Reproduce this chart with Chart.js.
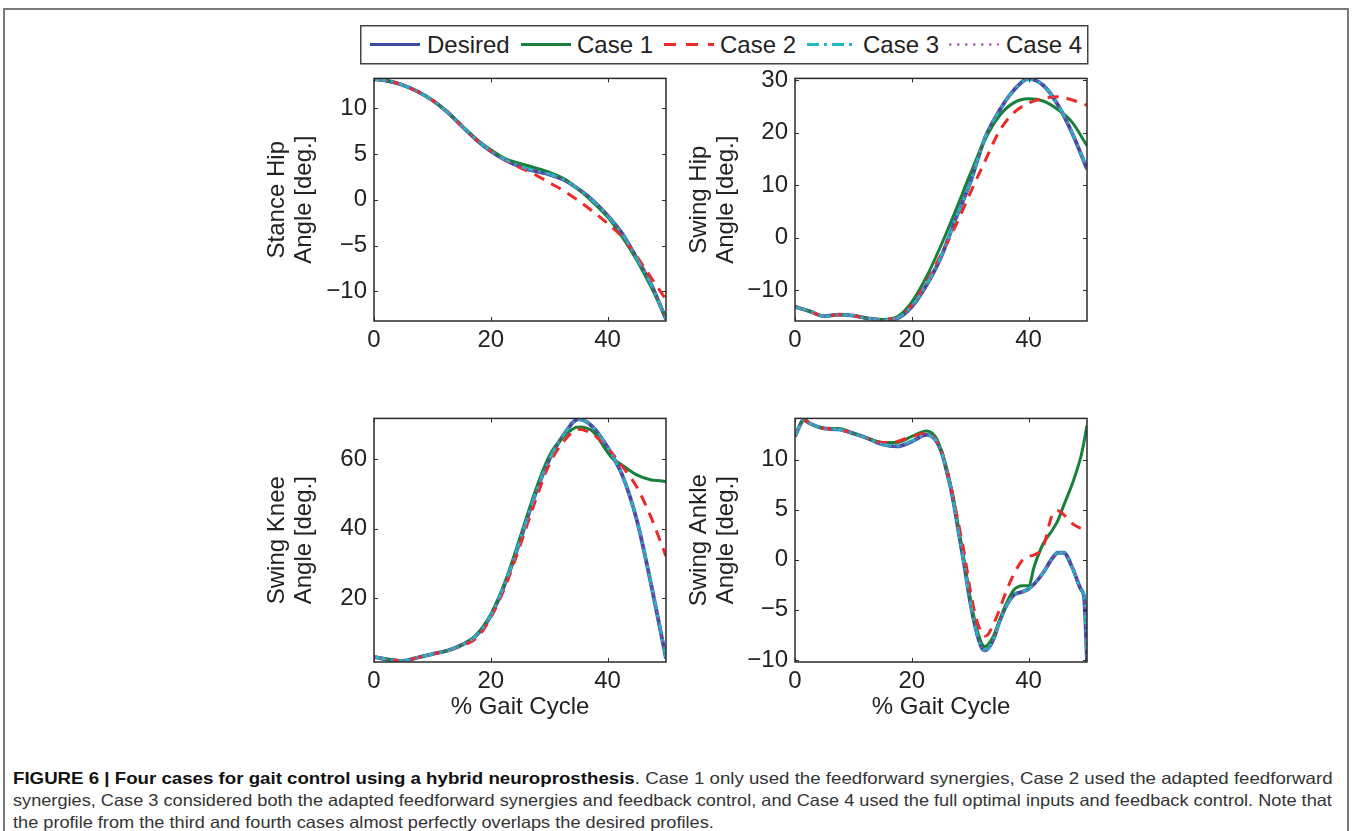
<!DOCTYPE html>
<html><head><meta charset="utf-8">
<script src="https://cdn.jsdelivr.net/npm/chart.js@4.4.1/dist/chart.umd.min.js"></script>
<style>
html,body{margin:0;padding:0;background:#fff;}
#page{position:relative;width:1352px;height:831px;overflow:hidden;font-family:"Liberation Sans",Arial,Helvetica,sans-serif;color:#222;background:#fff;}
#frame{position:absolute;left:3px;top:8px;width:1346px;height:900px;border:2px solid #7a7a7a;box-sizing:border-box;}
canvas{position:absolute;}
#legendSvg{position:absolute;left:0;top:0;}
.ltxt{position:absolute;font-size:24px;line-height:24px;white-space:nowrap;color:#222;}
.cap{position:absolute;left:13px;white-space:nowrap;font-family:"Liberation Sans Narrow","Liberation Sans",Arial,sans-serif;font-size:16.5px;line-height:22px;transform-origin:0 50%;color:#333;}
.cap b{color:#111;}
</style>
</head><body>
<div id="page">
  <div id="frame"></div>
  <canvas id="c1" width="422" height="304" style="left:264px;top:57px"></canvas>
  <canvas id="c2" width="421" height="304" style="left:686px;top:57px"></canvas>
  <canvas id="c3" width="422" height="324" style="left:264px;top:397px"></canvas>
  <canvas id="c4" width="421" height="324" style="left:686px;top:397px"></canvas>
  <svg id="legendSvg" width="1352" height="80"></svg>
  <div id="legendTexts"></div>
  <div class="cap" id="cap1" style="top:767px"><b>FIGURE 6 | Four cases for gait control using a hybrid neuroprosthesis</b>. Case 1 only used the feedforward synergies, Case 2 used the adapted feedforward</div>
  <div class="cap" id="cap2" style="top:789px">synergies, Case 3 considered both the adapted feedforward synergies and feedback control, and Case 4 used the full optimal inputs and feedback control. Note that</div>
  <div class="cap" id="cap3" style="top:811px">the profile from the third and fourth cases almost perfectly overlaps the desired profiles.</div>
</div>
<script>
// ---------------- DATA ----------------
const seriesNames = ['Desired', 'Case 1', 'Case 2', 'Case 3', 'Case 4'];
const gaitTicks = [0, 20, 40];

// Stance hip
const stanceX = [0,2.5,5,7.5,10,12.5,15,17.5,20,22.5,25,27.5,30,32.5,35,37.5,40,42.5,45,47.5,50];
const stanceDesired = [13.17,12.95,12.5,11.8,10.86,9.6,8.06,6.55,5.29,4.32,3.6,3.13,2.77,2.16,1.15,-0.1,-1.73,-3.7,-6.4,-9.3,-13.06];
const stanceCase1   = [13.17,12.95,12.5,11.8,10.86,9.62,8.12,6.65,5.45,4.46,3.96,3.5,3.0,2.3,1.15,-0.3,-1.9,-4.06,-6.6,-9.6,-12.9];
const stanceCase2   = [13.17,12.95,12.5,11.8,10.86,9.6,8.06,6.55,5.3,4.3,3.5,2.77,1.87,0.97,-0.1,-1.3,-2.6,-4.06,-6.2,-8.56,-10.9];
const stanceCase3   = [13.17,12.95,12.5,11.8,10.86,9.6,8.08,6.58,5.33,4.36,3.65,3.18,2.8,2.18,1.15,-0.12,-1.75,-3.72,-6.42,-9.32,-13.0];
const stanceCase4   = [13.17,12.95,12.5,11.8,10.86,9.6,8.06,6.55,5.3,4.33,3.61,3.14,2.77,2.16,1.15,-0.1,-1.73,-3.7,-6.4,-9.3,-13.05];
const stanceTicks = [-10,-5,0,5,10];

// Swing hip
const swingHipX = [0,2.5,5,7.5,10,12.5,15,17.5,20,22.5,25,27.5,30,32.5,35,37.5,40,42.5,45,47.5,50];
const swingHipDesired = [-13.1,-13.95,-14.9,-14.6,-14.8,-15.3,-15.6,-15.3,-13.1,-9.0,-3.66,3.6,10.5,18.9,24.2,28.1,30.2,29.0,25.3,19.8,13.07];
const swingHipCase1   = [-13.1,-13.95,-14.9,-14.6,-14.8,-15.3,-15.5,-15.0,-12.2,-7.45,-1.45,5.2,12.1,18.6,23.2,25.7,26.45,26.0,24.4,21.9,17.5];
const swingHipCase2   = [-13.1,-13.95,-14.9,-14.6,-14.8,-15.3,-15.5,-15.2,-12.8,-8.5,-3.2,2.3,8.5,14.5,20.3,23.8,25.6,26.5,26.8,26.2,25.2];
const swingHipCase3   = [-13.1,-13.95,-14.9,-14.6,-14.8,-15.3,-15.55,-15.25,-13.0,-8.9,-3.6,3.6,10.5,18.9,24.2,28.1,30.1,29.0,25.3,19.9,13.1];
const swingHipCase4   = [-13.1,-13.95,-14.9,-14.6,-14.8,-15.3,-15.6,-15.3,-13.1,-9.0,-3.66,3.6,10.5,18.9,24.2,28.1,30.2,29.0,25.3,19.8,13.07];
const swingHipTicks = [-10,0,10,20,30];

// Swing knee
const kneeX = [0,2.5,5,7.5,10,12.5,15,17.5,20,22.5,25,27.5,30,32.5,35,37.5,40,41,42.5,45,47.5,49,50];
const kneeDesired = [3.0,2.2,1.8,2.8,3.8,4.75,6.4,9.1,14.8,24.4,36.4,49.35,59.9,67.1,71.6,69.3,63.5,60.5,55.5,42.5,23.5,11.0,2.5];
const kneeCase1   = [3.0,2.2,1.8,2.8,3.8,4.75,6.4,9.3,15.3,24.9,37.4,50.3,60.9,66.6,69.3,68.0,62.0,60.0,58.3,55.5,54.0,53.8,53.6];
const kneeCase2   = [3.0,2.2,1.8,2.8,3.8,4.7,6.2,8.3,14.3,23.4,35.0,47.4,58.5,65.2,68.7,67.2,63.3,61.3,58.0,52.0,43.0,36.5,32.0];
const kneeCase3   = [3.0,2.2,1.8,2.8,3.8,4.75,6.4,9.1,14.9,24.5,36.5,49.4,59.9,67.1,71.5,69.3,63.5,60.5,55.5,42.6,23.6,11.2,2.6];
const kneeCase4   = [3.0,2.2,1.8,2.8,3.8,4.75,6.4,9.1,14.8,24.4,36.4,49.35,59.9,67.1,71.6,69.3,63.5,60.5,55.5,42.5,23.5,11.0,2.5];
const kneeTicks = [20,40,60];

// Swing ankle
const ankleX = [0,1,1.5,2.5,5,7.5,10,12.5,15,17.5,20,22.5,24,25,26,27,28,29,30,31,32,32.5,33,34,35,36,37.5,39,40,41,42.5,44,45,46,47.5,49,49.5,50];
const ankleDesired = [12.3,13.6,14.0,13.6,13.1,13.0,12.6,12.1,11.5,11.3,11.8,12.45,12.0,10.9,8.8,6.2,2.8,-0.6,-4.2,-7.0,-8.8,-9.05,-8.9,-7.9,-6.2,-4.8,-3.5,-3.2,-2.9,-2.4,-1.3,0.1,0.7,0.7,-0.8,-3.0,-3.8,-10.1];
const ankleCase1   = [12.3,13.6,14.0,13.6,13.1,13.1,12.6,12.1,11.7,11.7,12.3,12.85,12.3,11.0,9.0,6.5,3.2,-0.2,-3.8,-6.6,-8.4,-8.65,-8.5,-7.6,-6.1,-4.6,-3.0,-2.6,-2.6,-0.6,1.6,2.9,3.9,5.4,7.6,10.4,11.8,13.4];
const ankleCase2   = [12.3,13.6,13.9,13.6,13.1,13.0,12.6,12.1,11.7,11.8,12.3,12.6,12.1,11.0,9.0,6.5,3.6,0.6,-3.0,-5.8,-7.3,-7.6,-7.5,-6.4,-5.0,-3.4,-1.4,0.0,0.35,0.5,1.3,4.4,4.9,4.5,3.6,3.1,3.0,3.0];
const ankleCase3   = [12.3,13.6,14.0,13.6,13.1,13.0,12.6,12.1,11.5,11.35,11.85,12.45,12.0,10.9,8.8,6.2,2.8,-0.6,-4.2,-7.0,-8.8,-9.0,-8.9,-7.9,-6.2,-4.8,-3.5,-3.2,-2.9,-2.4,-1.3,0.1,0.7,0.7,-0.8,-3.0,-3.6,-9.8];
const ankleCase4   = [12.3,13.6,14.0,13.6,13.1,13.0,12.6,12.1,11.5,11.3,11.8,12.45,12.0,10.9,8.8,6.2,2.8,-0.6,-4.2,-7.0,-8.8,-9.05,-8.9,-7.9,-6.2,-4.8,-3.5,-3.2,-2.9,-2.4,-1.3,0.1,0.7,0.7,-0.8,-3.0,-3.8,-10.1];
const ankleTicks = [-10,-5,0,5,10];

// ---------------- STYLE ----------------
const FONT = 'Liberation Sans, Arial, Helvetica, sans-serif';
const TXT = '#222222';
const STYLE = [
  {color:'#3A4BA4', width:3.8, dash:[]},
  {color:'#17803A', width:3.0, dash:[]},
  {color:'#EC2A2A', width:3.0, dash:[11,8]},
  {color:'#22B7C1', width:3.0, dash:[12,5,3,5]},
  {color:'#A54CB2', width:1.8, dash:[2,4]}
];

function buildDatasets(xs, ys) {
  return ys.map((vals, i) => ({
    label: seriesNames[i],
    data: xs.map((x, j) => ({x: x, y: vals[j]})),
    borderColor: STYLE[i].color,
    borderWidth: STYLE[i].width,
    borderDash: STYLE[i].dash,
    pointRadius: 0,
    fill: false,
    cubicInterpolationMode: 'monotone',
    order: 5 - i,
    borderCapStyle: 'butt',
    borderJoinStyle: 'round'
  }));
}

const matlabBox = {
  id: 'matlabBox',
  afterDraw(chart) {
    const {ctx, chartArea: a, scales} = chart;
    const x = scales.x, y = scales.y;
    ctx.save();
    ctx.strokeStyle = '#2a2a2a';
    ctx.lineWidth = 1;
    const tl = 4;
    ctx.beginPath();
    x.ticks.forEach(t => {
      const px = Math.round(x.getPixelForValue(t.value)) + 0.5;
      ctx.moveTo(px, a.bottom); ctx.lineTo(px, a.bottom - tl);
      ctx.moveTo(px, a.top); ctx.lineTo(px, a.top + tl);
    });
    y.ticks.forEach(t => {
      const py = Math.round(y.getPixelForValue(t.value)) + 0.5;
      ctx.moveTo(a.left, py); ctx.lineTo(a.left + tl, py);
      ctx.moveTo(a.right, py); ctx.lineTo(a.right - tl, py);
    });
    ctx.stroke();
    ctx.lineWidth = 1.5;
    ctx.strokeRect(a.left, a.top, a.right - a.left, a.bottom - a.top);
    ctx.restore();
  }
};

const fmt = v => String(v).replace('-', '\u2212');

function makePanel(id, xs, ys, yMin, yMax, yTicks, yTitle, yAxisWidth, showXTitle) {
  const xAxisHeight = showXTitle ? 59 : 40;
  new Chart(document.getElementById(id), {
    type: 'line',
    data: {datasets: buildDatasets(xs, ys)},
    options: {
      responsive: false,
      maintainAspectRatio: false,
      devicePixelRatio: 1,
      animation: false,
      events: [],
      layout: {padding: {top: 20, right: 20, bottom: 0, left: 0}},
      plugins: {legend: {display: false}, tooltip: {enabled: false}},
      scales: {
        x: {
          type: 'linear', min: 0, max: 50,
          afterBuildTicks: s => { s.ticks = gaitTicks.map(v => ({value: v})); },
          afterFit: s => { s.height = xAxisHeight; },
          grid: {display: false, drawTicks: false},
          border: {display: false},
          ticks: {color: TXT, font: {family: FONT, size: 24, lineHeight: 1.2}, padding: 5, callback: fmt, maxRotation: 0},
          title: {display: showXTitle, text: '% Gait Cycle', color: TXT, font: {family: FONT, size: 24, lineHeight: '27px'}, padding: {top: 0, bottom: 0}}
        },
        y: {
          type: 'linear', min: yMin, max: yMax,
          afterBuildTicks: s => { s.ticks = yTicks.map(v => ({value: v})); },
          afterFit: s => { s.width = yAxisWidth; },
          grid: {display: false, drawTicks: false},
          border: {display: false},
          ticks: {color: TXT, font: {family: FONT, size: 24, lineHeight: 1.2}, padding: 7, callback: fmt},
          title: {display: true, text: yTitle, color: TXT, font: {family: FONT, size: 24, lineHeight: '27px'}, padding: {top: 0, bottom: 0}}
        }
      }
    },
    plugins: [matlabBox]
  });
}

makePanel('c1', stanceX, [stanceDesired, stanceCase1, stanceCase2, stanceCase3, stanceCase4],
  -13.24, 13.24, stanceTicks, ['Stance Hip', 'Angle [deg.]'], 110, false);
makePanel('c2', swingHipX, [swingHipDesired, swingHipCase1, swingHipCase2, swingHipCase3, swingHipCase4],
  -15.8, 30.3, swingHipTicks, ['Swing Hip', 'Angle [deg.]'], 109, false);
makePanel('c3', kneeX, [kneeDesired, kneeCase1, kneeCase2, kneeCase3, kneeCase4],
  1.5, 71.8, kneeTicks, ['Swing Knee', 'Angle [deg.]'], 110, true);
makePanel('c4', ankleX, [ankleDesired, ankleCase1, ankleCase2, ankleCase3, ankleCase4],
  -10.2, 14.1, ankleTicks, ['Swing Ankle', 'Angle [deg.]'], 109, true);

// ---------------- LEGEND (HTML) ----------------
(function () {
  const svg = document.getElementById('legendSvg');
  const ns = 'http://www.w3.org/2000/svg';
  const box = document.createElementNS(ns, 'rect');
  box.setAttribute('x', 360.75); box.setAttribute('y', 25.75);
  box.setAttribute('width', 727); box.setAttribute('height', 38);
  box.setAttribute('fill', '#fff'); box.setAttribute('stroke', '#444'); box.setAttribute('stroke-width', 1.5);
  svg.appendChild(box);
  const samples = [[370, 420], [521, 571], [664, 714], [807, 857], [949, 999]];
  const legendDash = ['', '', '12 10', '12 5 3 5', '2.5 5.5'];
  const textLeft = [427, 577, 720, 863, 1006];
  const holder = document.getElementById('legendTexts');
  seriesNames.forEach((name, i) => {
    const ln = document.createElementNS(ns, 'line');
    ln.setAttribute('x1', samples[i][0]); ln.setAttribute('x2', samples[i][1]);
    ln.setAttribute('y1', 44.5); ln.setAttribute('y2', 44.5);
    ln.setAttribute('stroke', STYLE[i].color);
    ln.setAttribute('stroke-width', i === 4 ? 2 : 3);
    if (legendDash[i]) ln.setAttribute('stroke-dasharray', legendDash[i]);
    svg.appendChild(ln);
    const t = document.createElement('div');
    t.className = 'ltxt';
    t.style.left = textLeft[i] + 'px';
    t.style.top = '33px';
    t.textContent = name;
    holder.appendChild(t);
  });
})();

// ---------------- CAPTION FIT ----------------
(function () {
  const fit = (id, w) => { const el = document.getElementById(id); const s = w / el.offsetWidth; el.style.transform = 'scaleX(' + s + ')'; return s; };
  fit('cap1', 1320);
  const s2 = fit('cap2', 1319);
  document.getElementById('cap3').style.transform = 'scaleX(' + s2 + ')';
})();
</script>
</body></html>
